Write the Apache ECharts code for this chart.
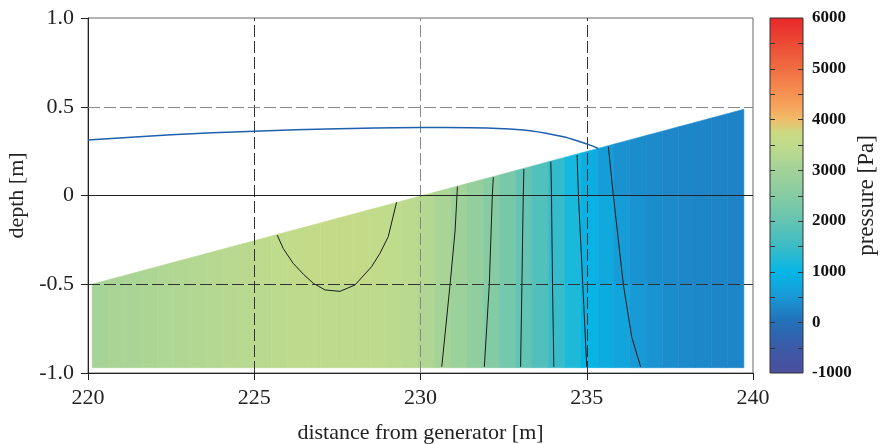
<!DOCTYPE html>
<html>
<head>
<meta charset="utf-8">
<script src="https://cdn.jsdelivr.net/npm/echarts@6/dist/echarts.min.js"></script>
<style>
  html, body { margin: 0; padding: 0; background: #fff; }
  #chart { width: 881px; height: 444px; }
</style>
</head>
<body>
<div id="chart"></div>
<script>
// ---- pressure field: column centres [m] and cell width ----
const columnX = [
  220.37, 220.86, 221.35, 221.84, 222.33, 222.82, 223.31, 223.80, 224.29, 224.78,
  225.27, 225.76, 226.25, 226.74, 227.23, 227.72, 228.21, 228.70, 229.19, 229.68,
  230.17, 230.66, 231.15, 231.64, 232.13, 232.62, 233.11, 233.60, 234.09, 234.58,
  235.07, 235.56, 236.05, 236.54, 237.03, 237.52, 238.01, 238.50, 238.99, 239.48
];
const cellWidth = 0.49;
// depth bands [m]: bottom, middle, top
const rowBounds = [[-0.97, -0.5], [-0.5, 0], [0, 0.5]];

// pressure [Pa] per column in each depth band
const pressureBottom = [
  3060, 3090, 3120, 3150, 3180, 3210, 3250, 3290, 3320, 3350,
  3380, 3410, 3440, 3460, 3470, 3470, 3460, 3440, 3410, 3350,
  3200, 3040, 2880, 2700, 2460, 2220, 1980, 1760, 1460, 1210,
   990,  820,  700,  530,  440,  380,  340,  320,  300,  290
];
const pressureMiddle = [
  3080, 3110, 3140, 3170, 3200, 3240, 3280, 3320, 3360, 3400,
  3440, 3490, 3530, 3560, 3580, 3580, 3560, 3530, 3490, 3420,
  3300, 3120, 2920, 2740, 2520, 2270, 2010, 1770, 1440, 1180,
   930,  760,  560,  440,  380,  340,  310,  290,  280,  270
];
const pressureTop = [
  3080, 3110, 3140, 3170, 3200, 3240, 3280, 3320, 3360, 3400,
  3440, 3490, 3530, 3560, 3580, 3580, 3560, 3530, 3490, 3420,
  3330, 3170, 3000, 2780, 2540, 2290, 2020, 1780, 1420, 1130,
   860,  580,  430,  380,  340,  310,  290,  280,  270,  260
];

// sloping bed that bounds the field from above
const bedX = [220.12, 239.73];
const bedY = [-0.5, 0.486];

// free water surface
const surfaceX = [220, 222.5, 225, 227.5, 230, 231.5, 232.5, 233.3, 234.3, 234.8, 235.1, 235.35];
const surfaceY = [0.313, 0.342, 0.362, 0.376, 0.383, 0.382, 0.376, 0.365, 0.331, 0.303, 0.284, 0.265];

// isobars [x, depth]
const isobar3500 = [[225.69, -0.223], [225.87, -0.298], [226.17, -0.382], [226.48, -0.444], [226.78, -0.495],
  [227.13, -0.532], [227.58, -0.540], [228.03, -0.504], [228.53, -0.401], [228.78, -0.326], [229.03, -0.232], [229.28, -0.038]];
const isobar3000 = [[231.11, 0.05], [231.04, -0.2], [230.89, -0.5], [230.64, -0.965]];
const isobar2500 = [[232.19, 0.103], [232.16, 0], [232.07, -0.5], [231.92, -0.965]];
const isobar2000 = [[233.11, 0.149], [233.09, 0], [233.05, -0.5], [233.01, -0.965]];
const isobar1500 = [[233.92, 0.19], [233.94, 0], [233.97, -0.5], [234.01, -0.965]];
const isobar1000 = [[234.71, 0.228], [234.75, 0], [234.88, -0.5], [235.0, -0.965]];
const isobar500 = [[235.65, 0.275], [235.80, 0], [235.95, -0.25], [236.10, -0.5], [236.35, -0.795], [236.62, -0.965]];

// colour scale for pressure, one colour every 250 Pa from -1000 to 6000
const pressureMin = -1000;
const pressureMax = 6000;
const pressureColors = [
  '#4b4f9d', '#4354a2', '#3b5aa7', '#2f64b0', '#2370b8', '#1e82c6', '#1898d4', '#10a8de',
  '#06b6e6', '#22b9d6', '#3cbcc6', '#50c0bc', '#64c4b2', '#76c8aa', '#86cba2', '#94cf9d',
  '#a2d298', '#b2d792', '#c0db8c', '#ccd980', '#f0bc6a', '#f6a45c', '#f69252', '#f37f4a',
  '#f06c42', '#ee5b3b', '#ec4a34', '#ea382f', '#e8262a'
];
// tick marks on the colour bar
const colorBarTicks = [-1000, -500, 0, 500, 1000, 1500, 2000, 2500, 3000, 3500, 4000, 4500, 5000, 5500, 6000];

const FONT = '"Liberation Serif", "Times New Roman", serif';

// ---- helpers ----
function bedAt(x) {
  return bedY[0] + (bedY[1] - bedY[0]) * (x - bedX[0]) / (bedX[1] - bedX[0]);
}
// keep the part of a polygon lying below the bed line
function clipBelowBed(pts) {
  const out = [];
  for (let i = 0; i < pts.length; i++) {
    const a = pts[i], b = pts[(i + 1) % pts.length];
    const da = bedAt(a[0]) - a[1], db = bedAt(b[0]) - b[1];
    if (da >= 0) out.push(a);
    if ((da >= 0) !== (db >= 0)) {
      const t = da / (da - db);
      out.push([a[0] + t * (b[0] - a[0]), a[1] + t * (b[1] - a[1])]);
    }
  }
  return out;
}

const rows = [pressureBottom, pressureMiddle, pressureTop];
const fieldData = [];
rows.forEach((vals, r) => {
  columnX.forEach((x, i) => fieldData.push([x, r, vals[i]]));
});

function renderCell(params, api) {
  const xc = api.value(0);
  const r = api.value(1);
  const x0 = Math.max(xc - cellWidth / 2, bedX[0]);
  const x1 = Math.min(xc + cellWidth / 2, bedX[1]);
  const y0 = rowBounds[r][0], y1 = rowBounds[r][1];
  const poly = clipBelowBed([[x0, y0], [x1, y0], [x1, y1], [x0, y1]]);
  if (poly.length < 3) return null;
  const color = api.visual('color');
  return {
    type: 'polygon',
    shape: { points: poly.map(p => api.coord(p)) },
    style: { fill: color, stroke: color, lineWidth: 0.6 }
  };
}

function renderColorBar(params, api) {
  const p0 = api.coord([0, api.value(1)]);
  const p1 = api.coord([1, api.value(2)]);
  const n = pressureColors.length;
  const stops = pressureColors.map((c, i) => ({ offset: i / (n - 1), color: c }));
  const children = [{
    type: 'rect',
    shape: { x: p0[0], y: p1[1], width: p1[0] - p0[0], height: p0[1] - p1[1] },
    style: {
      fill: new echarts.graphic.LinearGradient(0, 1, 0, 0, stops),
      stroke: '#333', lineWidth: 1
    }
  }];
  const tickLen = 5;
  colorBarTicks.forEach(v => {
    if (v === pressureMin || v === pressureMax) return;
    const y = Math.round(api.coord([0, v])[1]) + 0.5;
    children.push({ type: 'line', shape: { x1: p0[0], y1: y, x2: p0[0] + tickLen, y2: y },
      style: { stroke: '#333', lineWidth: 1 } });
    children.push({ type: 'line', shape: { x1: p1[0] - tickLen, y1: y, x2: p1[0], y2: y },
      style: { stroke: '#333', lineWidth: 1 } });
  });
  return { type: 'group', children };
}

const isobarStyle = { color: '#1a1a1a', width: 1 };
function isobarSeries(pts) {
  return {
    type: 'line', xAxisIndex: 0, yAxisIndex: 0, data: pts, symbol: 'none',
    lineStyle: isobarStyle, silent: true, z: 4, animation: false
  };
}

const chart = echarts.init(document.getElementById('chart'));
chart.setOption({
  animation: false,
  backgroundColor: '#fff',
  grid: [
    { left: 88, top: 18, width: 665, height: 355, show: true, borderColor: '#666', borderWidth: 1,
      containLabel: false, outerBoundsMode: 'none' },
    { left: 770, top: 18, width: 33, height: 355, containLabel: false, outerBoundsMode: 'none' }
  ],
  xAxis: [
    {
      gridIndex: 0, type: 'value', min: 220, max: 240, interval: 5,
      name: 'distance from generator [m]', nameLocation: 'middle', nameGap: 49,
      nameTextStyle: { fontFamily: FONT, fontSize: 22, color: '#222' },
      axisLine: { onZero: false, lineStyle: { color: '#222', width: 1 } },
      axisTick: { length: 7, lineStyle: { color: '#222' } },
      axisLabel: { fontFamily: FONT, fontSize: 22, color: '#222', margin: 14 },
      splitLine: { show: false }
    },
    {
      gridIndex: 1, type: 'value', min: 0, max: 1, show: false
    }
  ],
  yAxis: [
    {
      gridIndex: 0, type: 'value', min: -1, max: 1, interval: 0.5,
      name: 'depth [m]', nameLocation: 'middle', nameGap: 52, nameRotate: 90,
      nameTextStyle: { fontFamily: FONT, fontSize: 22, color: '#222' },
      axisLine: { onZero: false, lineStyle: { color: '#222', width: 1 } },
      axisTick: { length: 7, lineStyle: { color: '#222' } },
      axisLabel: {
        fontFamily: FONT, fontSize: 22, color: '#222', margin: 14,
        formatter: v => (v === 0 ? '0' : v.toFixed(1))
      },
      splitLine: { show: false }
    },
    {
      gridIndex: 1, type: 'value', min: pressureMin, max: pressureMax, interval: 1000,
      position: 'right',
      name: 'pressure [Pa]', nameLocation: 'middle', nameGap: 39, nameRotate: 90,
      nameTextStyle: { fontFamily: FONT, fontSize: 23, color: '#222' },
      axisLine: { show: false },
      axisTick: { show: false },
      axisLabel: {
        fontFamily: FONT, fontSize: 17, fontWeight: 'bold', color: '#111', margin: 9,
        formatter: v => String(v)
      },
      splitLine: { show: false }
    }
  ],
  visualMap: {
    show: false, type: 'continuous', seriesIndex: 0, dimension: 2,
    min: pressureMin, max: pressureMax, inRange: { color: pressureColors }
  },
  series: [
    {
      type: 'custom', xAxisIndex: 0, yAxisIndex: 0, data: fieldData,
      encode: { x: 0, y: 1 }, renderItem: renderCell, silent: true, z: 2
    },
    {
      type: 'custom', xAxisIndex: 1, yAxisIndex: 1, data: [[0, pressureMin, pressureMax]],
      encode: { x: 0, y: [1, 2] }, renderItem: renderColorBar, silent: true, z: 2
    },
    isobarSeries(isobar3500),
    isobarSeries(isobar3000),
    isobarSeries(isobar2500),
    isobarSeries(isobar2000),
    isobarSeries(isobar1500),
    isobarSeries(isobar1000),
    isobarSeries(isobar500),
    {
      type: 'line', xAxisIndex: 0, yAxisIndex: 0,
      data: surfaceX.map((x, i) => [x, surfaceY[i]]),
      symbol: 'none', smooth: 0.3, silent: true, z: 5,
      lineStyle: { color: '#1f5fae', width: 1.5 },
      markLine: {
        silent: true, symbol: 'none', label: { show: false },
        data: [
          { xAxis: 225, lineStyle: { color: '#333', type: [12, 4], width: 1 } },
          { xAxis: 230, lineStyle: { color: '#888', type: [12, 4], width: 1 } },
          { xAxis: 235, lineStyle: { color: '#333', type: [12, 4], width: 1 } },
          { yAxis: 0.5, lineStyle: { color: '#888', type: [12, 4], width: 1 } },
          { yAxis: -0.5, lineStyle: { color: '#333', type: [12, 4], width: 1 } },
          { yAxis: 0, lineStyle: { color: '#222', type: 'solid', width: 1 } }
        ]
      }
    }
  ]
});
</script>
</body>
</html>
